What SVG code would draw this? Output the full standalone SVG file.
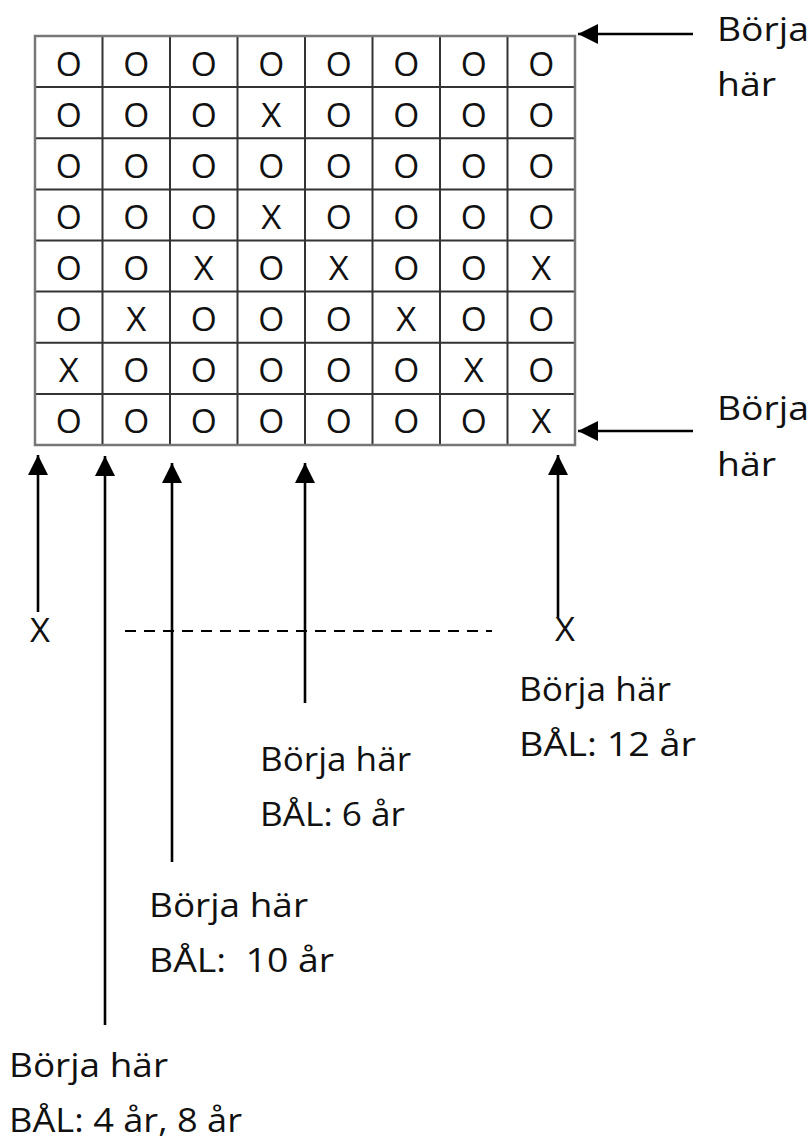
<svg xmlns="http://www.w3.org/2000/svg" width="810" height="1140" viewBox="0 0 810 1140">
<style>
text{font-family:"Open Sans","Noto Sans",sans-serif;fill:#111;}
.c{font-size:32px;text-anchor:middle;}
.l{font-size:33px;}
.g{stroke:#333;stroke-width:2;fill:none;}
.b{stroke:#777;stroke-width:2.5;fill:none;}
.a{stroke:#000;stroke-width:2.6;fill:none;}
.d{stroke:#000;stroke-width:2;stroke-dasharray:11 8;fill:none;}
</style>
<defs>
<marker id="ah" markerUnits="userSpaceOnUse" markerWidth="22" markerHeight="22" refX="20" refY="10" orient="auto"><path d="M0,0 L20,10 L0,20 Z" fill="#000"/></marker>
</defs>
<rect width="810" height="1140" fill="#fff"/>
<g id="grid">
<path class="g" d="M102.5,36V445M170,36V445M237.5,36V445M305,36V445M372.5,36V445M440,36V445M507.5,36V445M35,87.1H575M35,138.2H575M35,189.4H575M35,240.5H575M35,291.6H575M35,342.8H575M35,393.9H575"/>
<rect class="b" x="35" y="36" width="540" height="409"/>
<g id="r1"><text class="c" x="68.75" y="76" textLength="26" lengthAdjust="spacingAndGlyphs">O</text><text class="c" x="136.25" y="76" textLength="26" lengthAdjust="spacingAndGlyphs">O</text><text class="c" x="203.75" y="76" textLength="26" lengthAdjust="spacingAndGlyphs">O</text><text class="c" x="271.25" y="76" textLength="26" lengthAdjust="spacingAndGlyphs">O</text><text class="c" x="338.75" y="76" textLength="26" lengthAdjust="spacingAndGlyphs">O</text><text class="c" x="406.25" y="76" textLength="26" lengthAdjust="spacingAndGlyphs">O</text><text class="c" x="473.75" y="76" textLength="26" lengthAdjust="spacingAndGlyphs">O</text><text class="c" x="541.25" y="76" textLength="26" lengthAdjust="spacingAndGlyphs">O</text></g>
<g id="r2"><text class="c" x="68.75" y="127" textLength="26" lengthAdjust="spacingAndGlyphs">O</text><text class="c" x="136.25" y="127" textLength="26" lengthAdjust="spacingAndGlyphs">O</text><text class="c" x="203.75" y="127" textLength="26" lengthAdjust="spacingAndGlyphs">O</text><text class="c" x="271.25" y="127" textLength="20" lengthAdjust="spacingAndGlyphs">X</text><text class="c" x="338.75" y="127" textLength="26" lengthAdjust="spacingAndGlyphs">O</text><text class="c" x="406.25" y="127" textLength="26" lengthAdjust="spacingAndGlyphs">O</text><text class="c" x="473.75" y="127" textLength="26" lengthAdjust="spacingAndGlyphs">O</text><text class="c" x="541.25" y="127" textLength="26" lengthAdjust="spacingAndGlyphs">O</text></g>
<g id="r3"><text class="c" x="68.75" y="178" textLength="26" lengthAdjust="spacingAndGlyphs">O</text><text class="c" x="136.25" y="178" textLength="26" lengthAdjust="spacingAndGlyphs">O</text><text class="c" x="203.75" y="178" textLength="26" lengthAdjust="spacingAndGlyphs">O</text><text class="c" x="271.25" y="178" textLength="26" lengthAdjust="spacingAndGlyphs">O</text><text class="c" x="338.75" y="178" textLength="26" lengthAdjust="spacingAndGlyphs">O</text><text class="c" x="406.25" y="178" textLength="26" lengthAdjust="spacingAndGlyphs">O</text><text class="c" x="473.75" y="178" textLength="26" lengthAdjust="spacingAndGlyphs">O</text><text class="c" x="541.25" y="178" textLength="26" lengthAdjust="spacingAndGlyphs">O</text></g>
<g id="r4"><text class="c" x="68.75" y="229" textLength="26" lengthAdjust="spacingAndGlyphs">O</text><text class="c" x="136.25" y="229" textLength="26" lengthAdjust="spacingAndGlyphs">O</text><text class="c" x="203.75" y="229" textLength="26" lengthAdjust="spacingAndGlyphs">O</text><text class="c" x="271.25" y="229" textLength="20" lengthAdjust="spacingAndGlyphs">X</text><text class="c" x="338.75" y="229" textLength="26" lengthAdjust="spacingAndGlyphs">O</text><text class="c" x="406.25" y="229" textLength="26" lengthAdjust="spacingAndGlyphs">O</text><text class="c" x="473.75" y="229" textLength="26" lengthAdjust="spacingAndGlyphs">O</text><text class="c" x="541.25" y="229" textLength="26" lengthAdjust="spacingAndGlyphs">O</text></g>
<g id="r5"><text class="c" x="68.75" y="280" textLength="26" lengthAdjust="spacingAndGlyphs">O</text><text class="c" x="136.25" y="280" textLength="26" lengthAdjust="spacingAndGlyphs">O</text><text class="c" x="203.75" y="280" textLength="20" lengthAdjust="spacingAndGlyphs">X</text><text class="c" x="271.25" y="280" textLength="26" lengthAdjust="spacingAndGlyphs">O</text><text class="c" x="338.75" y="280" textLength="20" lengthAdjust="spacingAndGlyphs">X</text><text class="c" x="406.25" y="280" textLength="26" lengthAdjust="spacingAndGlyphs">O</text><text class="c" x="473.75" y="280" textLength="26" lengthAdjust="spacingAndGlyphs">O</text><text class="c" x="541.25" y="280" textLength="20" lengthAdjust="spacingAndGlyphs">X</text></g>
<g id="r6"><text class="c" x="68.75" y="331" textLength="26" lengthAdjust="spacingAndGlyphs">O</text><text class="c" x="136.25" y="331" textLength="20" lengthAdjust="spacingAndGlyphs">X</text><text class="c" x="203.75" y="331" textLength="26" lengthAdjust="spacingAndGlyphs">O</text><text class="c" x="271.25" y="331" textLength="26" lengthAdjust="spacingAndGlyphs">O</text><text class="c" x="338.75" y="331" textLength="26" lengthAdjust="spacingAndGlyphs">O</text><text class="c" x="406.25" y="331" textLength="20" lengthAdjust="spacingAndGlyphs">X</text><text class="c" x="473.75" y="331" textLength="26" lengthAdjust="spacingAndGlyphs">O</text><text class="c" x="541.25" y="331" textLength="26" lengthAdjust="spacingAndGlyphs">O</text></g>
<g id="r7"><text class="c" x="68.75" y="382" textLength="20" lengthAdjust="spacingAndGlyphs">X</text><text class="c" x="136.25" y="382" textLength="26" lengthAdjust="spacingAndGlyphs">O</text><text class="c" x="203.75" y="382" textLength="26" lengthAdjust="spacingAndGlyphs">O</text><text class="c" x="271.25" y="382" textLength="26" lengthAdjust="spacingAndGlyphs">O</text><text class="c" x="338.75" y="382" textLength="26" lengthAdjust="spacingAndGlyphs">O</text><text class="c" x="406.25" y="382" textLength="26" lengthAdjust="spacingAndGlyphs">O</text><text class="c" x="473.75" y="382" textLength="20" lengthAdjust="spacingAndGlyphs">X</text><text class="c" x="541.25" y="382" textLength="26" lengthAdjust="spacingAndGlyphs">O</text></g>
<g id="r8"><text class="c" x="68.75" y="433" textLength="26" lengthAdjust="spacingAndGlyphs">O</text><text class="c" x="136.25" y="433" textLength="26" lengthAdjust="spacingAndGlyphs">O</text><text class="c" x="203.75" y="433" textLength="26" lengthAdjust="spacingAndGlyphs">O</text><text class="c" x="271.25" y="433" textLength="26" lengthAdjust="spacingAndGlyphs">O</text><text class="c" x="338.75" y="433" textLength="26" lengthAdjust="spacingAndGlyphs">O</text><text class="c" x="406.25" y="433" textLength="26" lengthAdjust="spacingAndGlyphs">O</text><text class="c" x="473.75" y="433" textLength="26" lengthAdjust="spacingAndGlyphs">O</text><text class="c" x="541.25" y="433" textLength="20" lengthAdjust="spacingAndGlyphs">X</text></g>
</g>
<g id="connectors">
<line class="a" x1="693" y1="34" x2="578" y2="34" marker-end="url(#ah)"/>
<line class="a" x1="693" y1="431" x2="578" y2="431" marker-end="url(#ah)"/>
<line class="a" x1="38" y1="612" x2="38" y2="455" marker-end="url(#ah)"/>
<line class="a" x1="105" y1="1025" x2="105" y2="456" marker-end="url(#ah)"/>
<line class="a" x1="172" y1="862" x2="172" y2="463" marker-end="url(#ah)"/>
<line class="a" x1="305" y1="703" x2="305" y2="463" marker-end="url(#ah)"/>
<line class="a" x1="558" y1="617" x2="558" y2="455" marker-end="url(#ah)"/>
<line class="d" x1="125" y1="631" x2="492" y2="631"/>
</g>
<g id="label-right-top"><text class="l" x="717" y="41" textLength="92" lengthAdjust="spacingAndGlyphs">Börja</text><text class="l" x="717" y="96" textLength="59" lengthAdjust="spacingAndGlyphs">här</text></g>
<g id="label-right-bottom"><text class="l" x="717" y="420" textLength="92" lengthAdjust="spacingAndGlyphs">Börja</text><text class="l" x="717" y="476" textLength="59" lengthAdjust="spacingAndGlyphs">här</text></g>
<g id="x-left"><text class="c" x="40" y="642" textLength="20" lengthAdjust="spacingAndGlyphs">X</text></g>
<g id="x-right"><text class="c" x="565" y="641" textLength="20" lengthAdjust="spacingAndGlyphs">X</text></g>
<g id="label-12"><text class="l" x="519" y="701" textLength="152" lengthAdjust="spacingAndGlyphs">Börja här</text><text class="l" x="519" y="756" textLength="177" lengthAdjust="spacingAndGlyphs">BÅL: 12 år</text></g>
<g id="label-6"><text class="l" x="260" y="771" textLength="151" lengthAdjust="spacingAndGlyphs">Börja här</text><text class="l" x="260" y="826" textLength="145" lengthAdjust="spacingAndGlyphs">BÅL: 6 år</text></g>
<g id="label-10"><text class="l" x="149" y="917" textLength="159" lengthAdjust="spacingAndGlyphs">Börja här</text><text class="l" x="149" y="972" textLength="185" lengthAdjust="spacingAndGlyphs" xml:space="preserve">BÅL:  10 år</text></g>
<g id="label-4-8"><text class="l" x="9" y="1077" textLength="159" lengthAdjust="spacingAndGlyphs">Börja här</text><text class="l" x="9" y="1132" textLength="233" lengthAdjust="spacingAndGlyphs">BÅL: 4 år, 8 år</text></g>
</svg>
